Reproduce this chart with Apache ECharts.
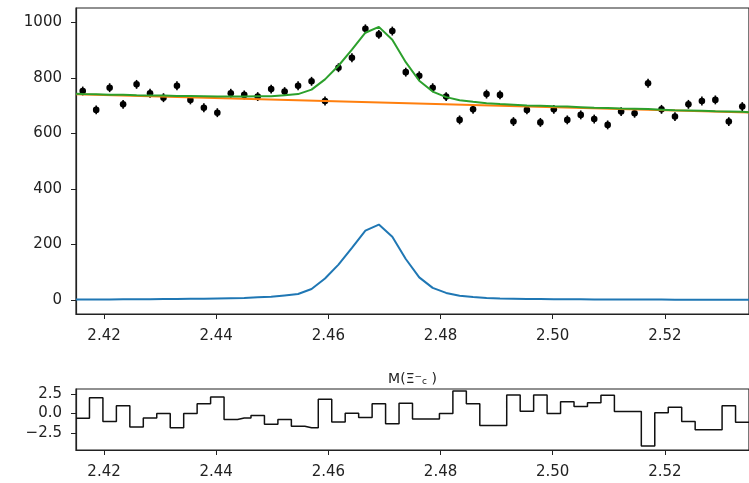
<!DOCTYPE html>
<html>
<head>
<meta charset="utf-8">
<script src="https://cdn.jsdelivr.net/npm/echarts@6/dist/echarts.min.js"></script>
<style>
  html, body { margin: 0; padding: 0; background: #fff; }
  #main { width: 749px; height: 483px; }
</style>
</head>
<body>
<div id="main"></div>
<script>
// bin centres (50 bins, 2.415 - 2.535)
var binX = [2.4162, 2.4186, 2.4210, 2.4234, 2.4258, 2.4282, 2.4306, 2.4330, 2.4354, 2.4378,
            2.4402, 2.4426, 2.4450, 2.4474, 2.4498, 2.4522, 2.4546, 2.4570, 2.4594, 2.4618,
            2.4642, 2.4666, 2.4690, 2.4714, 2.4738, 2.4762, 2.4786, 2.4810, 2.4834, 2.4858,
            2.4882, 2.4906, 2.4930, 2.4954, 2.4978, 2.5002, 2.5026, 2.5050, 2.5074, 2.5098,
            2.5122, 2.5146, 2.5170, 2.5194, 2.5218, 2.5242, 2.5266, 2.5290, 2.5314, 2.5338];
var xLo = 2.415, xHi = 2.535;

// measured counts
var counts = [753, 685, 765, 705, 777, 745, 729, 772, 721, 693,
              675, 745, 739, 733, 760, 751, 772, 788, 717, 837,
              873, 977, 957, 969, 821, 808, 765, 733, 649, 687,
              742, 739, 643, 685, 640, 687, 649, 667, 652, 631,
              679, 673, 781, 687, 661, 705, 717, 721, 643, 697];
var errHalf = 16;

// fit components at the bin centres (plus the two range ends)
var signal = [2, 2, 2, 2, 3, 3, 3, 4, 4, 5, 5,
              6, 7, 8, 10, 12, 17, 22, 40, 78, 128,
              188, 250, 272, 228, 148, 82, 44, 26, 16, 11,
              8, 6, 5, 4, 4, 3, 3, 3, 2, 2,
              2, 2, 2, 2, 1, 1, 1, 1, 1, 1, 1];
var total = [743, 742, 741, 740, 740, 738, 737, 737, 735, 735, 734,
             733, 733, 733, 734, 734, 738, 742, 758, 795, 844,
             902, 963, 984, 938, 857, 790, 751, 731, 720, 714,
             709, 706, 704, 701, 700, 698, 697, 695, 693, 692,
             690, 689, 688, 686, 684, 683, 682, 680, 679, 678, 677];
var bgEnds = [741, 676];

// pulls per bin
var pulls = [-0.6, 2.0, -1.0, 1.0, -1.7, -0.55, 0.0, -1.8, 0.0, 1.25,
             2.1, -0.75, -0.55, -0.25, -1.35, -0.75, -1.6, -1.8, 1.8, -1.05,
             0.05, -0.5, 1.25, -1.3, 1.3, -0.7, -0.7, 0.0, 2.85, 1.25,
             -1.5, -1.5, 2.35, 0.3, 2.35, 0.0, 1.5, 0.9, 1.35, 2.3,
             0.25, 0.25, -4.1, 0.1, 0.8, -1.0, -2.05, -2.05, 1.0, -1.1];

var xTicks = [2.42, 2.44, 2.46, 2.48, 2.50, 2.52];
var yTicks = [0, 200, 400, 600, 800, 1000];
var pullTicks = [-2.5, 0, 2.5];
var xLabel = 'M(Ξ{sup|−}{sub|c} )';

var lineX = [xLo].concat(binX, [xHi]);
function pairs(xs, ys) { return xs.map(function (x, i) { return [x, ys[i]]; }); }

var txt = { fontFamily: 'DejaVu Sans', fontSize: 15, color: '#222' };
var spine = { show: true, onZero: false, lineStyle: { color: '#222', width: 1.2 } };

function xAxisFor(gi, extra) {
  return Object.assign({
    type: 'value', gridIndex: gi, min: xLo, max: xHi,
    axisLine: spine,
    axisTick: { show: true, length: 5, customValues: xTicks, lineStyle: { color: '#222' } },
    axisLabel: Object.assign({ margin: 15, customValues: xTicks,
      formatter: function (v) { return v.toFixed(2); } }, txt),
    splitLine: { show: false }
  }, extra || {});
}

var chart = echarts.init(document.getElementById('main'));
chart.setOption({
  animation: false,
  backgroundColor: '#fff',
  grid: [
    { left: 76, top: 8, width: 676.5, height: 306, show: true, borderColor: '#222', borderWidth: 1.2 },
    { left: 76, top: 389, width: 676.5, height: 61, show: true, borderColor: '#222', borderWidth: 1.2 }
  ],
  xAxis: [
    xAxisFor(0, {
      name: xLabel, nameLocation: 'middle', nameGap: 58,
      nameTextStyle: { fontFamily: 'DejaVu Sans', fontSize: 14, color: '#222',
        rich: { sup: { fontSize: 9, verticalAlign: 'top', color: '#222' },
                sub: { fontSize: 9, verticalAlign: 'bottom', color: '#222' } } }
    }),
    xAxisFor(1)
  ],
  yAxis: [
    { type: 'value', gridIndex: 0, min: -50, max: 1052,
      axisLine: spine,
      axisTick: { show: true, length: 5, customValues: yTicks, lineStyle: { color: '#222' } },
      axisLabel: Object.assign({ margin: 14, customValues: yTicks,
        formatter: function (v) { return String(v); } }, txt),
      splitLine: { show: false } },
    { type: 'value', gridIndex: 1, min: -4.6, max: 3.1,
      axisLine: spine,
      axisTick: { show: true, length: 5, customValues: pullTicks, lineStyle: { color: '#222' } },
      axisLabel: Object.assign({ margin: 14, customValues: pullTicks,
        formatter: function (v) { return v.toFixed(1).replace('-', '−'); } }, txt),
      splitLine: { show: false } }
  ],
  series: [
    { type: 'line', xAxisIndex: 0, yAxisIndex: 0, data: pairs(lineX, signal),
      showSymbol: false, lineStyle: { color: '#1f77b4', width: 2 } },
    { type: 'line', xAxisIndex: 0, yAxisIndex: 0, data: pairs([xLo, xHi], bgEnds),
      showSymbol: false, lineStyle: { color: '#ff7f0e', width: 2 } },
    { type: 'line', xAxisIndex: 0, yAxisIndex: 0, data: pairs(lineX, total),
      showSymbol: false, lineStyle: { color: '#2ca02c', width: 2 } },
    { type: 'custom', xAxisIndex: 0, yAxisIndex: 0, data: pairs(binX, counts),
      renderItem: function (params, api) {
        var x = api.value(0), y = api.value(1);
        var hi = api.coord([x, y + errHalf]);
        var lo = api.coord([x, y - errHalf]);
        var c = api.coord([x, y]);
        return { type: 'group', children: [
          { type: 'line', shape: { x1: hi[0], y1: hi[1], x2: lo[0], y2: lo[1] },
            style: { stroke: '#000', lineWidth: 1.6 } },
          { type: 'circle', shape: { cx: c[0], cy: c[1], r: 3.3 }, style: { fill: '#000' } }
        ] };
      } },
    { type: 'line', xAxisIndex: 1, yAxisIndex: 1, step: 'middle',
      data: pairs(lineX, [pulls[0]].concat(pulls, [pulls[pulls.length - 1]])),
      showSymbol: false, lineStyle: { color: '#111', width: 1.5 } }
  ]
});
</script>
</body>
</html>
